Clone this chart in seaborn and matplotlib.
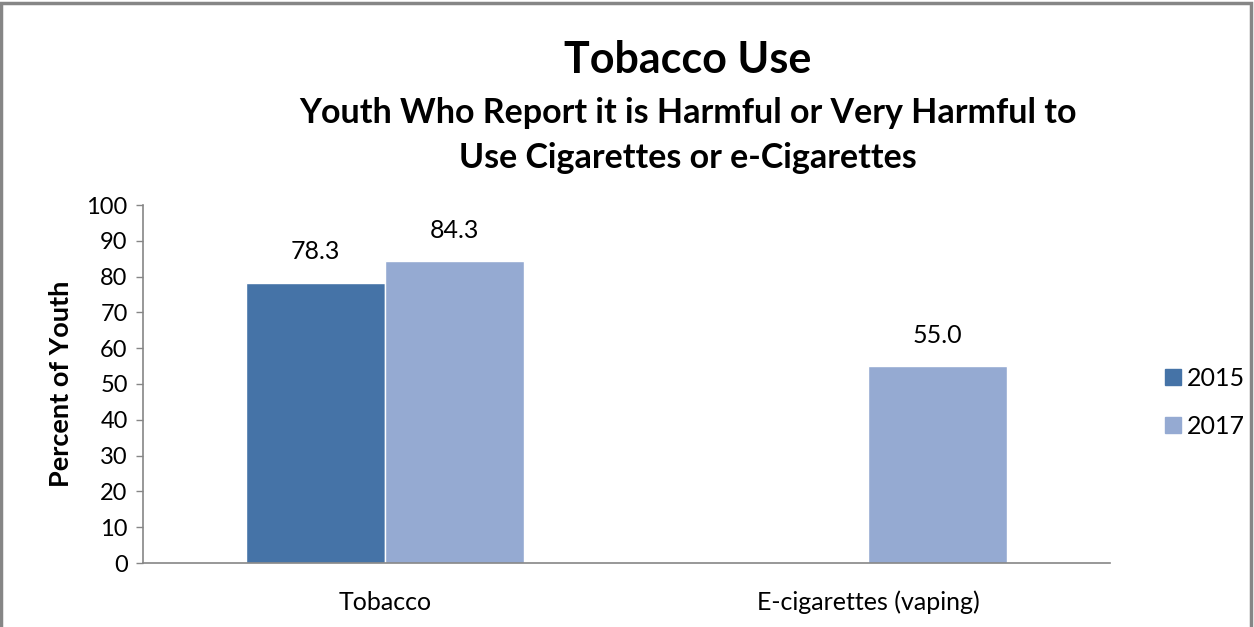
import matplotlib
matplotlib.use("Agg")
import matplotlib.pyplot as plt
import seaborn as sns
import pandas as pd
import numpy as np
from matplotlib.lines import Line2D

categories = ["Tobacco", "E-cigarettes (vaping)"]
years = ["2015", "2017"]
values_2015 = [78.3, np.nan]
values_2017 = [84.3, 55.0]
colors = ["#4573A7", "#95AAD2"]
yticks = [0, 10, 20, 30, 40, 50, 60, 70, 80, 90, 100]

df = pd.DataFrame({
    "Category": categories * 2,
    "Year": [years[0]] * 2 + [years[1]] * 2,
    "Value": values_2015 + values_2017,
})

sns.set_theme(style="white")
plt.rcParams['font.family'] = ['Lato', 'DejaVu Sans']
plt.rcParams['text.color'] = 'black'
plt.rcParams['axes.labelcolor'] = 'black'
plt.rcParams['xtick.color'] = 'black'
plt.rcParams['ytick.color'] = 'black'

fig = plt.figure(figsize=(12.54, 6.27), dpi=100)
ax = fig.add_axes([143/1254, 1 - 563/627, (1110-143)/1254, (563-205)/627])

sns.barplot(data=df, x="Category", y="Value", hue="Year", order=categories,
            hue_order=years, palette=colors, width=0.575, saturation=1,
            ax=ax, errorbar=None, legend=True)

for c in ax.containers:
    labels = ["" if np.isnan(v) else f"{v:.1f}" for v in c.datavalues]
    ax.bar_label(c, labels=labels, padding=14, fontsize=18, color='black')

ax.set_xlim(-0.5, 1.5)
ax.set_ylim(0, 100)
ax.set_yticks(yticks)
ax.set_yticklabels([str(t) for t in yticks], fontsize=17)
ax.tick_params(axis='x', labelsize=18, length=0, pad=20, labelcolor='black')
ax.tick_params(axis='y', length=5, width=1, color="#868686", direction='out', left=True,
               pad=6, labelcolor='black')
ax.set_xlabel("")
ax.set_ylabel("Percent of Youth", fontsize=19.5, fontweight='bold', labelpad=10, color='black')
for s in ["top", "right"]:
    ax.spines[s].set_visible(False)
for s in ["left", "bottom"]:
    ax.spines[s].set_color("#868686")
    ax.spines[s].set_linewidth(1.2)

ax.legend_.remove()
handles = [Line2D([0], [0], marker='s', linestyle='none', markersize=12,
                  markerfacecolor=col, markeredgecolor=col) for col in colors]
fig.legend(handles, years, loc='center left', bbox_to_anchor=(1138/1254, 1 - 402/627),
           frameon=False, fontsize=18, handletextpad=0.05, labelspacing=1.0,
           handlelength=1.0, labelcolor='black')

fig.text(688/1254, 1 - 60/627, "Tobacco Use", ha='center', va='center',
         fontsize=31, fontweight='bold', color='black')
fig.text(688/1254, 1 - 136/627,
         "Youth Who Report it is Harmful or Very Harmful to\nUse Cigarettes or e-Cigarettes",
         ha='center', va='center', fontsize=24.5, fontweight='bold', linespacing=1.5,
         color='black')

fig.patches.append(plt.Rectangle((0.001, -0.01), 0.997, 1.005, transform=fig.transFigure,
                                 fill=False, edgecolor="#868686", linewidth=2.5))

fig.savefig("out.png", dpi=100)
